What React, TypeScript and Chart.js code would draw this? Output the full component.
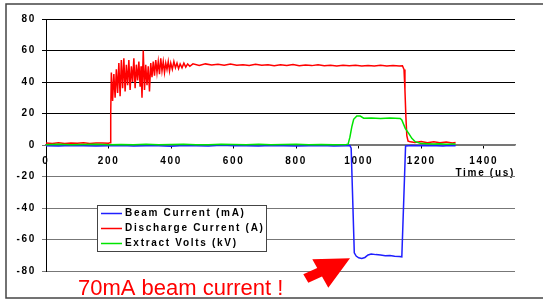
import React, { useEffect, useRef } from 'react';
import { Chart, registerables } from 'chart.js';

Chart.register(...registerables);

const FONT = 'Arial, "Liberation Sans", Helvetica, sans-serif';

// ---- data ----
const seriesLabels = ['Beam Current (mA)', 'Discharge Current (A)', 'Extract Volts (kV)'];
const seriesColors = ['#1f1fff', '#ff0000', '#00e400'];

const beamTime = [
  0, 40, 80, 120, 160, 200, 240, 280, 320, 360, 400, 440, 480, 520, 560, 600, 640, 680, 720, 760, 800, 840, 880, 920, 960,
  972, 976, 981, 986, 992, 1000, 1010, 1020, 1030, 1040, 1055, 1070, 1085, 1100, 1115, 1130, 1138, 1144, 1150,
  1170, 1190, 1210, 1230, 1250, 1270, 1290, 1310,
];
const beamValues = [
  -0.4, -0.6, -0.3, -0.5, -0.7, -0.4, -0.3, -0.6, -0.5, -0.4, -0.8, -0.3, -0.5, -0.6, -0.2, -0.5, -0.4, -0.7, -0.3, -0.5, -0.6, -0.4, -0.3, -0.6, -0.5,
  -0.4, -2, -35, -68.5, -70.5, -71.6, -72, -71.4, -69.8, -69.2, -69.6, -69.9, -70.3, -70.2, -70.6, -70.8, -71, -36, -0.6,
  -0.3, -0.5, -0.3, -0.5, -0.4, -0.6, -0.3, -0.4,
];

const dischargeTime = [
  0, 20, 40, 60, 80, 100, 120, 140, 160, 180, 200, 205,
  207, 209, 213, 217, 221, 225, 229, 233, 237, 241, 245, 249, 253, 257, 261, 265, 269, 273, 277, 281,
  285, 289, 293, 297, 301, 304, 307, 311, 315, 319, 323, 327, 331, 335, 339, 343, 347, 351, 355, 359,
  363, 367, 371, 375, 379, 383, 387, 391, 395, 399, 404, 409, 414, 419, 424, 429, 435, 441, 447, 453, 460,
  470, 490, 510, 530, 550, 570, 590, 610, 630, 650, 670, 690, 710, 730, 750, 770, 790, 810, 830, 850, 870, 890, 910, 930,
  950, 970, 990, 1010, 1030, 1050, 1070, 1090, 1110, 1130, 1140, 1145, 1148, 1151, 1154, 1158, 1165, 1180, 1200, 1220,
  1240, 1260, 1280, 1300, 1310,
];
const dischargeValues = [
  1.2, 1.0, 1.4, 0.9, 1.3, 1.1, 1.5, 1.0, 1.3, 1.2, 1.1, 1.5,
  20, 46, 28, 45, 30, 48, 33, 52, 31, 54, 36, 55, 34, 51, 38, 54, 35, 50, 40, 55,
  36, 51, 41, 53, 37, 50, 30, 60, 35, 51, 38, 50, 34, 52, 43, 53, 44, 54, 46, 53,
  45, 55, 47, 53, 46, 52, 48, 53, 47, 52, 48, 53, 49, 52, 48.5, 51.5, 49, 52, 49.5, 51.5, 50,
  51.5, 50.5, 51.5, 50.8, 51.2, 50.6, 51.4, 50.7, 51, 50.5, 51.2, 50.6, 51, 50.4, 50.9, 50.5, 51.1, 50.3, 50.8, 50.4, 50.9, 50.3, 50.7, 50.2,
  50.6, 50.3, 50.7, 50.2, 50.5, 50.1, 50.6, 50.2, 50.5, 50.1, 50.3, 48, 35, 18, 6, 2.5, 2, 1.6, 2.2, 1.5,
  2.0, 1.4, 1.9, 1.3, 1.6,
];

const voltsTime = [
  0, 40, 80, 120, 160, 200, 240, 280, 320, 360, 400, 440, 480, 520, 560, 600, 640, 680, 720, 760, 800, 840, 880, 920, 960,
  966, 972, 978, 984, 994, 1005, 1016, 1040, 1070, 1100, 1133, 1138, 1149, 1160, 1170, 1181, 1197, 1220, 1240, 1260, 1280, 1300, 1310,
];
const voltsValues = [
  0.2, 0.4, 0.1, 0.3, 0.5, 0.2, 0.3, 0.1, 0.4, 0.2, 0.3, 0.5, 0.2, 0.1, 0.4, 0.3, 0.2, 0.4, 0.1, 0.3, 0.5, 0.2, 0.3, 0.2, 0.3,
  0.4, 5, 11.5, 16.3, 18.4, 18.4, 17, 17.2, 16.9, 17.1, 16.9, 15.9, 10.6, 7.4, 4.2, 2.1, 1.1, 0.8, 0.6, 0.8, 0.5, 0.7, 0.6,
];

const yMin = -80;
const yMax = 80;
const yStep = 20;
const xMin = 0;
const xMax = 1500;
const xTickValues = [0, 200, 400, 600, 800, 1000, 1200, 1400];
const xTitle = 'Time (us)';
const annotationText = '70mA beam current !';

function pairs(t: number[], v: number[]) {
  return t.map((x, i) => ({ x, y: v[i] }));
}

const decorPlugin = {
  id: 'decor',
  beforeDraw(chart: any) {
    chart.ctx.letterSpacing = '1.7px';
  },
  afterDraw(chart: any) {
    const ctx = chart.ctx as CanvasRenderingContext2D & { letterSpacing: string };
    ctx.save();
    // outer frame
    ctx.letterSpacing = '0px';
    ctx.strokeStyle = '#444';
    ctx.lineWidth = 1.5;
    ctx.strokeRect(6, 4, 560, 294);

    // legend box
    const bx = 97.5, by = 205.5, bw = 169, bh = 46;
    ctx.fillStyle = '#fff';
    ctx.fillRect(bx, by, bw, bh);
    ctx.strokeStyle = '#444';
    ctx.lineWidth = 1;
    ctx.strokeRect(bx, by, bw, bh);
    ctx.font = `bold 10px ${FONT}`;
    ctx.textBaseline = 'middle';
    ctx.textAlign = 'left';
    ctx.letterSpacing = '1.7px';
    chart.data.datasets.forEach((ds: any, i: number) => {
      const yy = 213.5 + i * 15;
      ctx.strokeStyle = ds.borderColor;
      ctx.lineWidth = 1.5;
      ctx.beginPath();
      ctx.moveTo(101, yy);
      ctx.lineTo(122, yy);
      ctx.stroke();
      ctx.fillStyle = '#000';
      ctx.fillText(ds.label, 125, yy);
    });

    // annotation
    ctx.letterSpacing = '0px';
    ctx.font = `22px ${FONT}`;
    ctx.fillStyle = '#ff0000';
    ctx.textBaseline = 'alphabetic';
    ctx.fillText(annotationText, 78, 295);
    ctx.beginPath();
    ctx.moveTo(303.3, 274.3);
    ctx.lineTo(317.2, 268);
    ctx.lineTo(312.3, 259.3);
    ctx.lineTo(350, 258.3);
    ctx.lineTo(328.3, 287.7);
    ctx.lineTo(322, 276.5);
    ctx.lineTo(308.3, 282.7);
    ctx.closePath();
    ctx.fill();
    ctx.restore();
  },
};

export default function App() {
  const ref = useRef<HTMLCanvasElement | null>(null);
  useEffect(() => {
    if (!ref.current) return;
    const chart = new Chart(ref.current, {
      type: 'line',
      data: {
        datasets: [
          { label: seriesLabels[0], data: pairs(beamTime, beamValues), borderColor: seriesColors[0], borderWidth: 1.5, pointRadius: 0, order: 2 },
          { label: seriesLabels[1], data: pairs(dischargeTime, dischargeValues), borderColor: seriesColors[1], borderWidth: 1.5, pointRadius: 0, order: 1 },
          { label: seriesLabels[2], data: pairs(voltsTime, voltsValues), borderColor: seriesColors[2], borderWidth: 1.5, pointRadius: 0, order: 0 },
        ],
      },
      options: {
        animation: false,
        responsive: false,
        devicePixelRatio: 1,
        layout: { padding: { left: 0, right: 28, top: 19, bottom: 28 } },
        plugins: { legend: { display: false }, tooltip: { enabled: false } },
        elements: { line: { tension: 0 } },
        scales: {
          x: {
            type: 'linear',
            position: { y: 0 } as any,
            min: xMin,
            max: xMax,
            afterBuildTicks: (scale: any) => {
              scale.ticks = xTickValues.map((v) => ({ value: v }));
            },
            ticks: {
              autoSkip: false,
              maxRotation: 0,
              padding: 7,
              color: '#000',
              font: { family: FONT, size: 10, weight: 'bold' },
              callback: (v: any) => String(v),
            },
            grid: { drawOnChartArea: false, drawTicks: true, tickLength: 3, color: '#000' },
            border: { display: true, color: '#777', width: 1.5 },
            title: {
              display: true,
              text: xTitle,
              align: 'end',
              color: '#000',
              font: { family: FONT, size: 10, weight: 'bold' },
              padding: { top: -7, bottom: 0 },
            },
          },
          y: {
            type: 'linear',
            position: 'left',
            min: yMin,
            max: yMax,
            afterFit: (scale: any) => {
              scale.width = 46;
            },
            ticks: {
              stepSize: yStep,
              padding: 6,
              color: '#000',
              font: { family: FONT, size: 10, weight: 'bold' },
            },
            grid: {
              drawTicks: true,
              tickLength: 4,
              lineWidth: 1,
              color: (c: any) => (c.tick && c.tick.value > 0 ? '#000' : '#777'),
            },
            border: { display: true, color: '#000', width: 1 },
          },
        },
      },
      plugins: [decorPlugin],
    });
    return () => chart.destroy();
  }, []);
  return (
    <div style={{ position: 'fixed', left: 0, top: 0, width: 543, height: 299, background: '#fff' }}>
      <canvas ref={ref} width={543} height={299} style={{ display: 'block' }} />
    </div>
  );
}
